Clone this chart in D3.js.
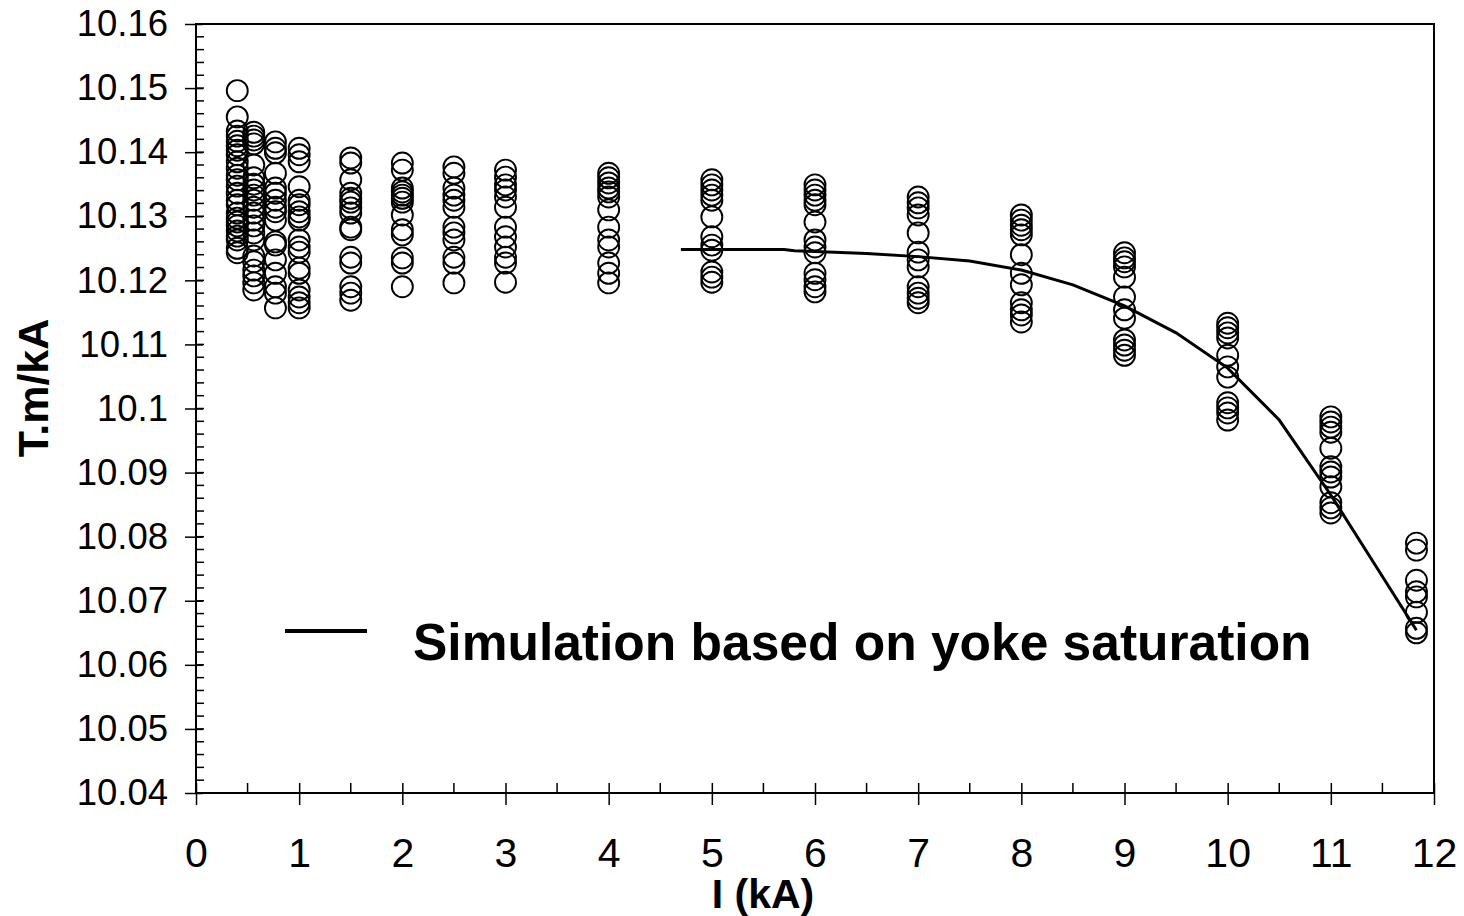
<!DOCTYPE html>
<html>
<head>
<meta charset="utf-8">
<script src="https://cdn.jsdelivr.net/npm/d3@7"></script>
<style>
  html, body { margin: 0; padding: 0; background: #fff; }
  svg { display: block; }
  text { font-family: "Liberation Sans", Arial, sans-serif; fill: #000; }
</style>
</head>
<body>
<svg id="chart" width="1464" height="916"></svg>
<script>
// Excitation current of each measurement run (kA)
const currents = [0.4, 0.56, 0.77, 1, 1.5, 2, 2.5, 3, 4, 5, 6, 7, 8, 9, 10, 11, 11.83];

// Measured integrated field per unit current (T.m/kA), one list per current
const measured = [
  [10.1496, 10.1455, 10.1433, 10.1425, 10.1417, 10.1410, 10.1403, 10.1396, 10.1385, 10.1375, 10.1364, 10.1357, 10.1347, 10.1336, 10.1325, 10.1318, 10.1305, 10.1297, 10.1291, 10.1285, 10.1277, 10.1269, 10.1263, 10.1250, 10.1243],
  [10.1431, 10.1425, 10.1419, 10.1413, 10.1380, 10.1360, 10.1350, 10.1341, 10.1333, 10.1325, 10.1314, 10.1305, 10.1294, 10.1285, 10.1274, 10.1263, 10.1238, 10.1229, 10.1216, 10.1207, 10.1196, 10.1185],
  [10.1416, 10.1406, 10.1399, 10.1367, 10.1344, 10.1336, 10.1325, 10.1314, 10.1307, 10.1294, 10.1260, 10.1255, 10.1232, 10.1211, 10.1190, 10.1180, 10.1157],
  [10.1406, 10.1396, 10.1385, 10.1346, 10.1325, 10.1318, 10.1307, 10.1299, 10.1294, 10.1263, 10.1252, 10.1244, 10.1219, 10.1211, 10.1185, 10.1174, 10.1165, 10.1157],
  [10.1391, 10.1383, 10.1357, 10.1336, 10.1328, 10.1322, 10.1313, 10.1305, 10.1283, 10.1279, 10.1236, 10.1227, 10.1190, 10.1180, 10.1169],
  [10.1383, 10.1372, 10.1344, 10.1338, 10.1333, 10.1328, 10.1322, 10.1302, 10.1279, 10.1271, 10.1235, 10.1227, 10.1190],
  [10.1377, 10.1367, 10.1344, 10.1333, 10.1325, 10.1314, 10.1283, 10.1274, 10.1263, 10.1236, 10.1227, 10.1196],
  [10.1372, 10.1361, 10.1349, 10.1341, 10.1330, 10.1314, 10.1283, 10.1268, 10.1252, 10.1236, 10.1227, 10.1197],
  [10.1367, 10.1360, 10.1352, 10.1344, 10.1338, 10.1330, 10.1310, 10.1283, 10.1263, 10.1252, 10.1227, 10.1211, 10.1196],
  [10.1357, 10.1349, 10.1341, 10.1333, 10.1325, 10.1299, 10.1268, 10.1255, 10.1247, 10.1213, 10.1205, 10.1197],
  [10.1349, 10.1341, 10.1333, 10.1325, 10.1318, 10.1291, 10.1263, 10.1252, 10.1243, 10.1211, 10.1201, 10.1190, 10.1182],
  [10.1330, 10.1321, 10.1313, 10.1302, 10.1274, 10.1244, 10.1232, 10.1221, 10.1190, 10.1180, 10.1172, 10.1165],
  [10.1302, 10.1294, 10.1286, 10.1279, 10.1271, 10.1240, 10.1211, 10.1193, 10.1165, 10.1154, 10.1146, 10.1135],
  [10.1243, 10.1235, 10.1229, 10.1221, 10.1205, 10.1174, 10.1154, 10.1141, 10.1107, 10.1099, 10.1091, 10.1083],
  [10.1133, 10.1126, 10.1118, 10.1110, 10.1083, 10.1065, 10.1049, 10.1009, 10.1001, 10.0993, 10.0982],
  [10.0987, 10.0979, 10.0971, 10.0963, 10.0938, 10.0909, 10.0901, 10.0893, 10.0878, 10.0853, 10.0845, 10.0837],
  [10.0790, 10.0779, 10.0732, 10.0714, 10.0706, 10.0682, 10.0657, 10.0650]
];

// Simulated curve from the yoke saturation model
const simCurrent = [4.7, 5.7, 5.8, 6, 6.5, 7, 7.5, 8, 8.5, 9, 9.5, 10, 10.5, 11, 11.83];
const simField   = [10.1248, 10.1248, 10.1246, 10.1245, 10.1242, 10.1237, 10.1230, 10.1216, 10.1193, 10.1160, 10.1118, 10.1063, 10.0982, 10.0865, 10.0654];

// Axis tick labels
const xTickValues = [0, 1, 2, 3, 4, 5, 6, 7, 8, 9, 10, 11, 12];
const yTickValues = [10.04, 10.05, 10.06, 10.07, 10.08, 10.09, 10.10, 10.11, 10.12, 10.13, 10.14, 10.15, 10.16];

const legendLabel = "Simulation based on yoke saturation";
const xTitle = "I (kA)";
const yTitle = "T.m/kA";

const svg = d3.select("#chart");
const plot = { left: 196, right: 1434, top: 24, bottom: 793 };

const x = d3.scaleLinear().domain([0, 12]).range([plot.left, plot.right]);
const y = d3.scaleLinear().domain([10.04, 10.16]).range([plot.bottom, plot.top]);

// Frame
svg.append("rect")
  .attr("x", plot.left).attr("y", plot.top)
  .attr("width", plot.right - plot.left).attr("height", plot.bottom - plot.top)
  .attr("fill", "none").attr("stroke", "#000").attr("stroke-width", 2);

// Minor ticks (inside only)
const yMinor = d3.range(0, 61).map(i => 10.04 + i * 0.002);
svg.append("g").selectAll("line").data(yMinor).join("line")
  .attr("x1", plot.left).attr("x2", plot.left + 8)
  .attr("y1", d => y(d)).attr("y2", d => y(d))
  .attr("stroke", "#000").attr("stroke-width", 1.5);

const xMinor = d3.range(0, 12).map(i => i + 0.5);
svg.append("g").selectAll("line").data(xMinor).join("line")
  .attr("x1", d => x(d)).attr("x2", d => x(d))
  .attr("y1", plot.bottom).attr("y2", plot.bottom - 10)
  .attr("stroke", "#000").attr("stroke-width", 1.5);

// Y axis: major ticks crossing the axis line
const yAxis = d3.axisLeft(y).tickValues(yTickValues)
  .tickFormat(d => String(+d.toFixed(2)))
  .tickSizeInner(11).tickSizeOuter(0);
const gy = svg.append("g").attr("transform", `translate(${plot.left},0)`).call(yAxis);
gy.select(".domain").remove();
gy.selectAll(".tick line").attr("x2", 7).attr("x1", -11).attr("stroke-width", 1.5);
gy.selectAll(".tick text")
  .attr("x", -28).attr("font-size", 36.5).attr("font-family", "Liberation Sans, Arial, sans-serif");

// X axis
const xAxis = d3.axisBottom(x).tickValues(xTickValues).tickFormat(d3.format("d"))
  .tickSizeInner(12).tickSizeOuter(0);
const gx = svg.append("g").attr("transform", `translate(0,${plot.bottom})`).call(xAxis);
gx.select(".domain").remove();
gx.selectAll(".tick line").attr("y1", -10).attr("y2", 12).attr("stroke-width", 1.5);
gx.selectAll(".tick text")
  .attr("y", 74).attr("dy", null).attr("font-size", 41)
  .attr("font-family", "Liberation Sans, Arial, sans-serif");

// Measured points
const points = currents.flatMap((c, i) => measured[i].map(v => ({ c, v })));
svg.append("g").selectAll("circle").data(points).join("circle")
  .attr("cx", d => x(d.c)).attr("cy", d => y(d.v)).attr("r", 10.5)
  .attr("fill", "none").attr("stroke", "#000").attr("stroke-width", 1.9);

// Simulation curve
const line = d3.line().x(d => x(d[0])).y(d => y(d[1]));
svg.append("path")
  .datum(simCurrent.map((c, i) => [c, simField[i]]))
  .attr("d", line)
  .attr("fill", "none").attr("stroke", "#000").attr("stroke-width", 3);

// Legend
svg.append("line")
  .attr("x1", 285).attr("x2", 367).attr("y1", 631).attr("y2", 631)
  .attr("stroke", "#000").attr("stroke-width", 4);
svg.append("text")
  .attr("x", 413).attr("y", 660)
  .attr("font-size", 51.5).attr("font-weight", "bold")
  .text(legendLabel);

// Axis titles
svg.append("text")
  .attr("x", 763).attr("y", 908)
  .attr("text-anchor", "middle")
  .attr("font-size", 41).attr("font-weight", "bold")
  .text(xTitle);

svg.append("text")
  .attr("transform", "translate(48,388) rotate(-90)")
  .attr("text-anchor", "middle")
  .attr("font-size", 43).attr("font-weight", "bold")
  .text(yTitle);
</script>
</body>
</html>
